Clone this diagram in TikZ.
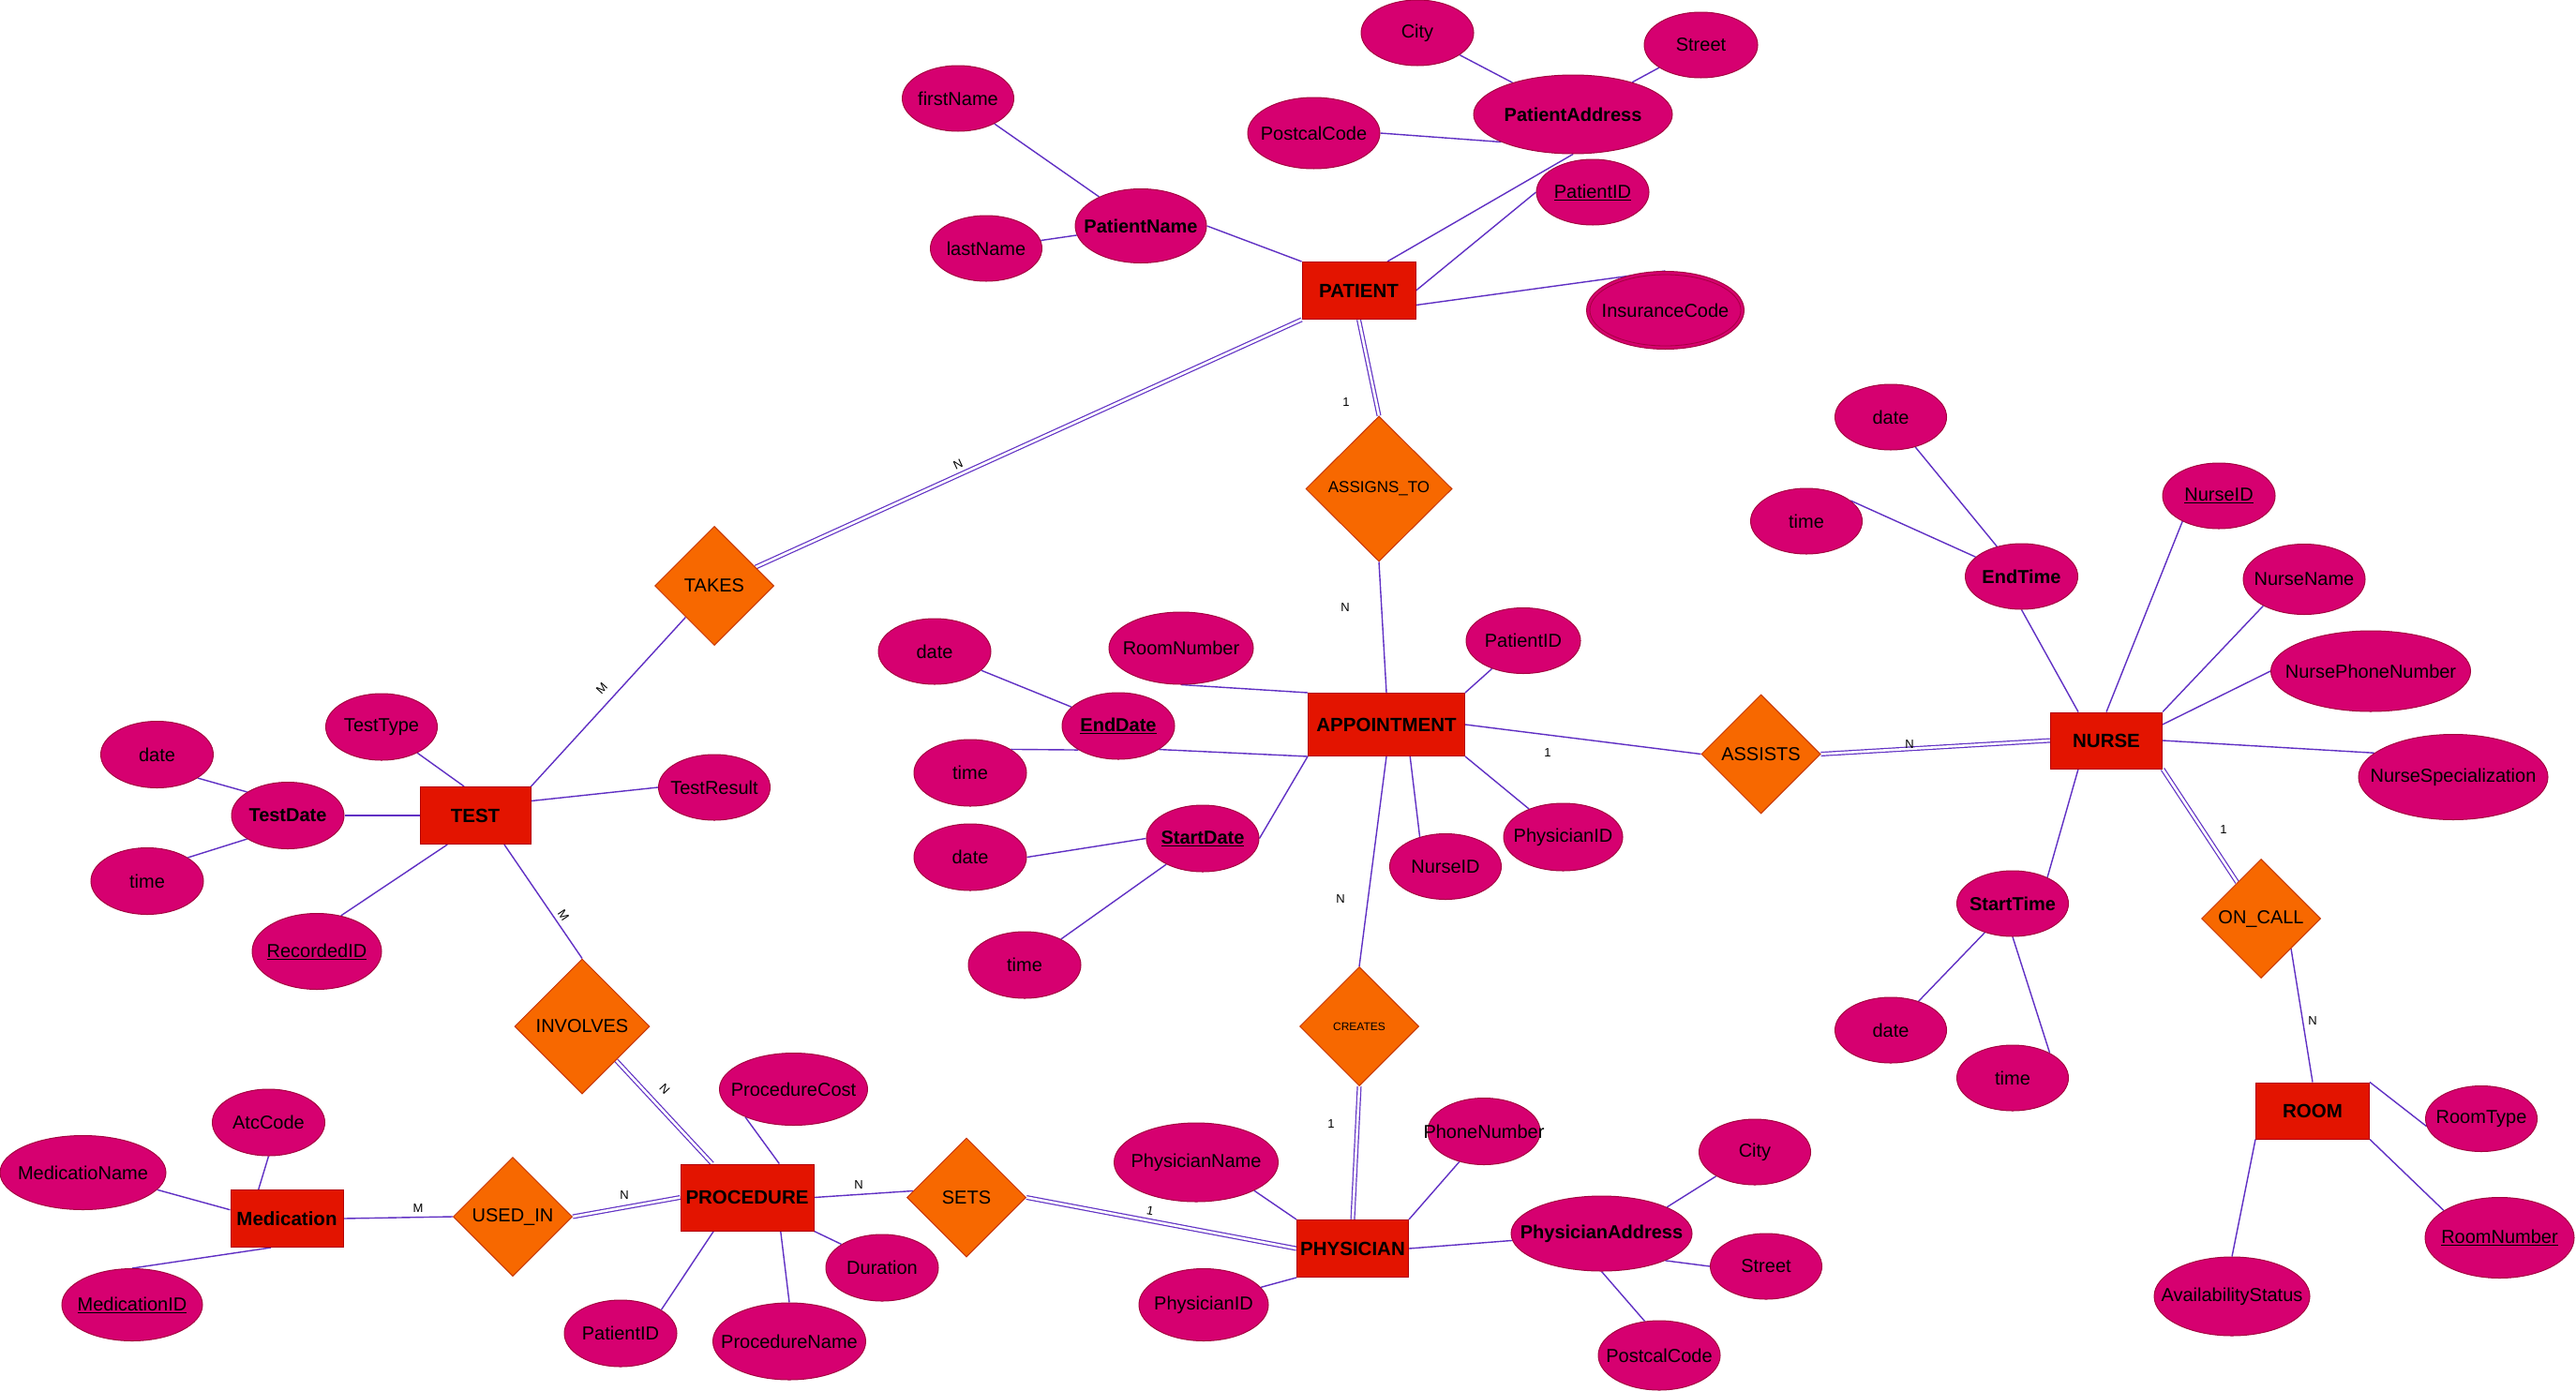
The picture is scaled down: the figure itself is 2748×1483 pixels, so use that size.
\documentclass[tikz,border=0pt]{standalone}
\usepackage{fontspec}
\setmainfont{Liberation Sans}
\usetikzlibrary{shapes.geometric,calc}

\definecolor{entfill}{HTML}{E31400}
\definecolor{entdraw}{HTML}{B20000}
\definecolor{relfill}{HTML}{F76800}
\definecolor{reldraw}{HTML}{C73500}
\definecolor{attfill}{HTML}{D60070}
\definecolor{attdraw}{HTML}{A50040}
\definecolor{link}{HTML}{6030C4}

% text helpers: zero-width centred box, key underline
\newcommand{\ctr}[1]{\makebox[0pt]{#1}}
\newcommand{\ukey}[1]{\underline{#1}}

\pgfdeclarelayer{back}
\pgfdeclarelayer{edges}
\pgfsetlayers{back,edges,main}

\tikzset{
  sz/.style 2 args={minimum width=#1pt, minimum height=#2pt},
  ent/.style={rectangle, draw=entdraw, fill=entfill, line width=1pt, inner sep=0pt,
              font=\bfseries\fontsize{20.5}{24}\selectfont},
  rel/.style={diamond, aspect=1, draw=reldraw, fill=relfill, line width=1pt, inner sep=0pt,
              font=\fontsize{20}{24}\selectfont},
  attr/.style={ellipse, draw=attdraw, fill=attfill, line width=1pt, inner sep=0pt,
               font=\fontsize{20}{24}\selectfont},
  lnk/.style={draw=link, line width=1.4pt},
  dbl/.style={draw=link, line width=1.2pt, double=white, double distance=2.6pt},
  card/.style={font=\fontsize{13}{15}\selectfont, inner sep=0pt},
}

\begin{document}
\begin{tikzpicture}[x=1pt, y=-1pt]
\begin{pgfonlayer}{back}
  \fill[white] (0,0) rectangle (2748,1483);
\end{pgfonlayer}
\useasboundingbox (0,0) rectangle (2748,1483);

% ---------- entities ----------
\node[ent, sz={121}{61}] (pat)   at (1449.5,310)  {PATIENT};
\node[ent, sz={167}{67}] (appt)  at (1479,773)    {APPOINTMENT};
\node[ent, sz={119}{60}] (nurse) at (2247,790)    {NURSE};
\node[ent, sz={118}{61}] (test)  at (507,870)     {TEST};
\node[ent, sz={142}{71}] (proc)  at (797,1277.5)  {PROCEDURE};
\node[ent, sz={120}{61}] (med)   at (306,1300)    {Medication};
\node[ent, sz={119}{61}] (phys)  at (1443,1332)   {PHYSICIAN};
\node[ent, sz={121}{60}] (room)  at (2467,1185)   {ROOM};

% ---------- relationships ----------
\node[rel, sz={156}{155}, font=\fontsize{17}{20}\selectfont] (assigns) at (1471,521.5) {\ctr{ASSIGNS\_TO}};
\node[rel, sz={127}{127}] (takes)    at (762,625)     {\ctr{TAKES}};
\node[rel, sz={127}{127}] (assists)  at (1878.5,804.5) {\ctr{ASSISTS}};
\node[rel, sz={144}{144}] (involves) at (621,1095)    {\ctr{INVOLVES}};
\node[rel, sz={127}{127}] (usedin)   at (547,1298)    {\ctr{USED\_IN}};
\node[rel, sz={127}{127}] (sets)     at (1031,1277.5) {\ctr{SETS}};
\node[rel, sz={127}{127}, font=\fontsize{12}{14}\selectfont] (creates) at (1450,1095) {\ctr{CREATES}};
\node[rel, sz={127}{127}] (oncall)   at (2412,980)    {\ctr{ON\_CALL}};

% ---------- patient attributes ----------
\node[attr, sz={120}{70}]  (city1)   at (1512,35)    {\ctr{City}};
\node[attr, sz={121}{70}]  (street1) at (1814.5,48)  {\ctr{Street}};
\node[attr, sz={212}{84}]  (paddr1)  at (1678,122)   {\ctr{\bfseries PatientAddress}};
\node[attr, sz={141}{76}]  (pc1)     at (1401.5,142) {\ctr{PostcalCode}};
\node[attr, sz={120}{70}]  (ppid)    at (1699,205)   {\ctr{\ukey{PatientID}}};
\node[attr, sz={168}{83}]  (ins)     at (1776.5,331) {\ctr{InsuranceCode}};
\draw[draw=attdraw, line width=0.8pt] (ins.center) ellipse [x radius=80.5pt, y radius=38pt];
\node[attr, sz={119}{70}]  (fname)   at (1022,105)   {\ctr{firstName}};
\node[attr, sz={140}{79}]  (pname)   at (1217,241)   {\ctr{\bfseries PatientName}};
\node[attr, sz={119}{70}]  (lname)   at (1052,265)   {\ctr{lastName}};

% ---------- appointment attributes ----------
\node[attr, sz={120}{70}]  (ad1)   at (997,695)     {\ctr{date}};
\node[attr, sz={154}{77}]  (arn)   at (1260,691.5)  {\ctr{RoomNumber}};
\node[attr, sz={120}{71}]  (aed)   at (1193,774.5)  {\ctr{\bfseries\ukey{EndDate}}};
\node[attr, sz={120}{71}]  (at1)   at (1035,824.5)  {\ctr{time}};
\node[attr, sz={120}{71}]  (ad2)   at (1035,914.5)  {\ctr{date}};
\node[attr, sz={120}{71}]  (asd)   at (1283,894.5)  {\ctr{\bfseries\ukey{StartDate}}};
\node[attr, sz={120}{71}]  (at2)   at (1093,1029.5) {\ctr{time}};
\node[attr, sz={122}{70}]  (apid)  at (1625,683.5)  {\ctr{PatientID}};
\node[attr, sz={119}{70}]  (anid)  at (1542,924.5)  {\ctr{NurseID}};
\node[attr, sz={127}{72}]  (aphid) at (1667.5,893)  {\ctr{PhysicianID}};

% ---------- nurse attributes ----------
\node[attr, sz={119}{70}]  (nd1)    at (2017,445)    {\ctr{date}};
\node[attr, sz={119}{70}]  (nt1)    at (1927,556)    {\ctr{time}};
\node[attr, sz={120}{70}]  (net)    at (2156.5,615)  {\ctr{\bfseries EndTime}};
\node[attr, sz={120}{70}]  (nnid)   at (2367,529)    {\ctr{\ukey{NurseID}}};
\node[attr, sz={130}{75}]  (nname)  at (2458,618)    {\ctr{NurseName}};
\node[attr, sz={213}{86}]  (nphone) at (2529,716)    {\ctr{NursePhoneNumber}};
\node[attr, sz={202}{91}]  (nspec)  at (2617,829)    {\ctr{NurseSpecialization}};
\node[attr, sz={119}{70}]  (nst)    at (2147,964)    {\ctr{\bfseries StartTime}};
\node[attr, sz={119}{70}]  (nd2)    at (2017,1099)   {\ctr{date}};
\node[attr, sz={119}{70}]  (nt2)    at (2147,1150)   {\ctr{time}};

% ---------- room attributes ----------
\node[attr, sz={119}{70}]  (rtype)  at (2647,1193.5) {\ctr{RoomType}};
\node[attr, sz={159}{86}]  (rnum)   at (2666.5,1320.5) {\ctr{\ukey{RoomNumber}}};
\node[attr, sz={166}{84}]  (ravail) at (2381,1383)   {\ctr{AvailabilityStatus}};

% ---------- test attributes ----------
\node[attr, sz={119}{71}]  (ttype) at (407,775.5) {\ctr{TestType}};
\node[attr, sz={120}{71}]  (td1)   at (167.5,805) {\ctr{date}};
\node[attr, sz={120}{71}]  (tdate) at (307,870)   {\ctr{\bfseries TestDate}};
\node[attr, sz={120}{71}]  (tt1)   at (157,940)   {\ctr{time}};
\node[attr, sz={138}{81}]  (trid)  at (338,1015)  {\ctr{\ukey{RecordedID}}};
\node[attr, sz={119}{70}]  (tres)  at (762,840)   {\ctr{TestResult}};

% ---------- procedure attributes ----------
\node[attr, sz={158}{77}]  (pcost)  at (846.5,1162)  {\ctr{ProcedureCost}};
\node[attr, sz={120}{71}]  (pdur)   at (941,1352.5)  {\ctr{Duration}};
\node[attr, sz={120}{71}]  (ppat)   at (662,1422.5)  {\ctr{PatientID}};
\node[attr, sz={163}{82}]  (ppname) at (842,1431)    {\ctr{ProcedureName}};

% ---------- medication attributes ----------
\node[attr, sz={120}{71}]  (matc)  at (286.5,1197.5) {\ctr{AtcCode}};
\node[attr, sz={177}{79}]  (mname) at (88.5,1251)    {\ctr{MedicatioName}};
\node[attr, sz={150}{77}]  (mid)   at (141,1392)     {\ctr{\ukey{MedicationID}}};

% ---------- physician attributes ----------
\node[attr, sz={175}{84}]  (phname)  at (1276,1240)   {\ctr{PhysicianName}};
\node[attr, sz={138}{77}]  (phid)    at (1284,1392)   {\ctr{PhysicianID}};
\node[attr, sz={120}{71}]  (phone)   at (1583,1207)   {\ctr{PhoneNumber}};
\node[attr, sz={193}{80}]  (phaddr)  at (1708.5,1316) {\ctr{\bfseries PhysicianAddress}};
\node[attr, sz={119}{70}]  (city2)   at (1872,1229)   {\ctr{City}};
\node[attr, sz={119}{70}]  (street2) at (1884,1351)   {\ctr{Street}};
\node[attr, sz={130}{74}]  (pc2)     at (1770,1446)   {\ctr{PostcalCode}};

% ---------- cardinalities ----------
\node[card] (k1)  at (1436,429)  {1};
\node[card] (k2)  at (1435,648)  {N};
\node[card, rotate=24.8] (k3) at (1022,495) {N};
\node[card, rotate=47.6] (k4) at (642,734)  {M};
\node[card, rotate=-56]  (k5) at (601,976)  {M};
\node[card, rotate=-47]  (k6) at (709,1162) {N};
\node[card] (k7)  at (666,1275)  {N};
\node[card] (k8)  at (446,1289)  {M};
\node[card] (k9)  at (916,1264)  {N};
\node[card, rotate=-10.7] (k10) at (1227,1292) {1};
\node[card] (k11) at (1420,1199) {1};
\node[card] (k12) at (1430,959)  {N};
\node[card] (k13) at (1651,803)  {1};
\node[card] (k14) at (2037,794)  {N};
\node[card] (k15) at (2372,885)  {1};
\node[card] (k16) at (2467,1089) {N};

% ---------- connectors ----------
\begin{pgfonlayer}{edges}
  % patient
  \draw[lnk] (pname.east) -- (pat.north west);
  \draw[lnk] (fname) -- (pname);
  \draw[lnk] (lname) -- (pname);
  \draw[lnk] ($(pat.north)!0.5!(pat.north east)$) -- (paddr1.south);
  \draw[lnk] (pat.east) -- (ppid.west);
  \draw[lnk] ($(pat.east)!0.5!(pat.south east)$) -- (ins.north);
  \draw[lnk] (city1) -- (paddr1);
  \draw[lnk] (street1) -- (paddr1);
  \draw[lnk] (pc1.east) -- (paddr1.201);
  \draw[dbl] (pat.south west) -- (takes);
  \draw[dbl] (pat.south) -- (assigns.north);
  \draw[lnk] (assigns.south) -- (appt.north);
  % appointment
  \draw[lnk] (arn.south) -- (appt.north west);
  \draw[lnk] (aed.-30) -- (appt.south west);
  \draw[lnk] (at1.30) -- (aed.211);
  \draw[lnk] (ad1) -- (aed);
  \draw[lnk] (asd.east) -- (appt.south west);
  \draw[lnk] (ad2.east) -- (asd.west);
  \draw[lnk] (at2) -- (asd);
  \draw[lnk] (appt.north east) -- (apid);
  \draw[lnk] ($(appt.south)!0.3!(appt.south east)$) -- (anid.131);
  \draw[lnk] (appt.south east) -- (aphid);
  \draw[lnk] (appt.east) -- (assists.west);
  \draw[lnk] (appt.south) -- (creates.north);
  % nurse
  \draw[dbl] (assists.east) -- (nurse.west);
  \draw[lnk] (net.south) -- ($(nurse.north west)!0.25!(nurse.north east)$);
  \draw[lnk] (nd1) -- (net);
  \draw[lnk] (nt1.25) -- (net.157);
  \draw[lnk] (nurse.north) -- (nnid.215);
  \draw[lnk] (nurse.north east) -- (nname.213);
  \draw[lnk] ($(nurse.north east)!0.22!(nurse.south east)$) -- (nphone.west);
  \draw[lnk] (nurse.east) -- (nspec.163);
  \draw[lnk] ($(nurse.south west)!0.25!(nurse.south east)$) -- (nst.37);
  \draw[lnk] (nd2) -- (nst);
  \draw[lnk] (nst.south) -- (nt2.34);
  \draw[dbl] (nurse.south east) -- (oncall);
  % room
  \draw[lnk] (oncall.-45) -- (room.north);
  \draw[lnk] (room.north east) -- (rtype.188);
  \draw[lnk] (room.south east) -- (rnum.154);
  \draw[lnk] (room.south west) -- (ravail.north);
  % test
  \draw[lnk] (test.north east) -- (takes);
  \draw[lnk] ($(test.north west)!0.4!(test.north east)$) -- (ttype.-36);
  \draw[lnk] ($(test.east)!0.5!(test.north east)$) -- (tres.west);
  \draw[lnk] (tdate.east) -- (test.west);
  \draw[lnk] (td1.-30) -- (tdate.150);
  \draw[lnk] (tt1.30) -- (tdate.210);
  \draw[lnk] ($(test.south west)!0.25!(test.south east)$) -- (trid.56);
  \draw[lnk] ($(test.south west)!0.76!(test.south east)$) -- (involves.north);
  % procedure
  \draw[dbl] (involves.-45) -- ($(proc.north west)!0.24!(proc.north east)$);
  \draw[dbl] (usedin.east) -- (proc.west);
  \draw[lnk] (pcost.210) -- ($(proc.north west)!0.74!(proc.north east)$);
  \draw[lnk] ($(proc.south west)!0.25!(proc.south east)$) -- (ppat.30);
  \draw[lnk] ($(proc.south west)!0.75!(proc.south east)$) -- (ppname.north);
  \draw[lnk] (proc.south east) -- (pdur.150);
  \draw[lnk] (proc.east) -- (sets.173);
  \draw[dbl] (sets.east) -- (phys.west);
  % medication
  \draw[lnk] (med.east) -- (usedin.west);
  \draw[lnk] (matc.south) -- ($(med.north west)!0.25!(med.north east)$);
  \draw[lnk] (mname.-13) -- ($(med.west)!0.3!(med.north west)$);
  \draw[lnk] (mid.north) -- ($(med.south west)!0.36!(med.south east)$);
  % physician
  \draw[dbl] (creates.south) -- (phys.north);
  \draw[lnk] (phname.-26) -- (phys.north west);
  \draw[lnk] (phid.17) -- (phys.south west);
  \draw[lnk] (phone.231) -- (phys.north east);
  \draw[lnk] (phys.east) -- (phaddr);
  \draw[lnk] (phaddr.22) -- (city2.212);
  \draw[lnk] (phaddr.-23) -- (street2.west);
  \draw[lnk] (phaddr.south) -- (pc2.113);
\end{pgfonlayer}
\end{tikzpicture}
\end{document}
